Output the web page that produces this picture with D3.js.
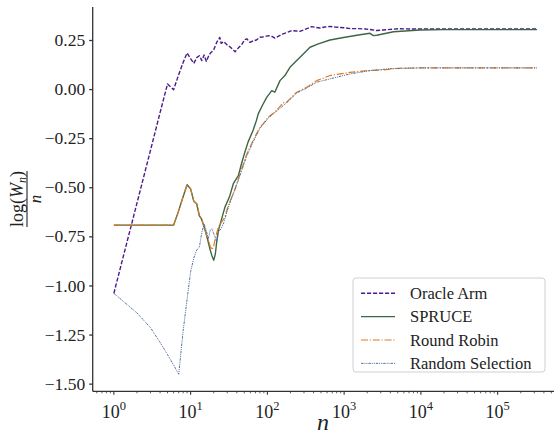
<!DOCTYPE html>
<html><head><meta charset="utf-8">
<script src="https://cdn.jsdelivr.net/npm/d3@7"></script>
<style>body{margin:0;background:#fff}svg{display:block}</style>
</head><body>
<svg id="c" width="554" height="436"></svg>
<script>
// ---------- data ----------
const seriesNames = ["Oracle Arm", "SPRUCE", "Round Robin", "Random Selection"];

const oracleN = [1,2,3,4,5,6,7,8,9,10,11,12,13,14,15,16,17,18,20,22,24,25,27,30,33,38,42,46,51,54,59,65,72,80,90,103,115,125,140,160,185,207,235,265,300,340,378,430,485,560,655,760,885,1000,1200,1500,1900,2300,2660,3200,4000,5080,7200,10000,20000,50000,100000,200000,325000];
const oracleY = [-1.04,-0.581,-0.312,-0.12,0.026,-0.003,0.074,0.136,0.184,0.155,0.131,0.16,0.17,0.145,0.174,0.141,0.165,0.182,0.2,0.24,0.263,0.233,0.242,0.225,0.213,0.19,0.21,0.225,0.252,0.256,0.238,0.245,0.25,0.264,0.266,0.272,0.268,0.26,0.27,0.281,0.29,0.298,0.296,0.294,0.302,0.31,0.318,0.314,0.311,0.316,0.319,0.316,0.314,0.312,0.308,0.308,0.306,0.302,0.298,0.301,0.304,0.307,0.306,0.306,0.306,0.306,0.306,0.306,0.306];

const spruceN = [1,2,3,4,5,6,7,8,9,10,11,12,13,14,15,16,17,18,19,20,21,22,23,25,28,32,36,42,46,51,56,65,72,76,87,98,114,125,146,169,197,241,294,359,461,655,980,1610,2170,2400,2660,3300,4400,9800,20000,50000,100000,200000,325000];
const spruceY = [-0.693,-0.693,-0.693,-0.693,-0.693,-0.693,-0.619,-0.547,-0.487,-0.508,-0.571,-0.584,-0.645,-0.665,-0.703,-0.74,-0.78,-0.82,-0.85,-0.872,-0.84,-0.77,-0.72,-0.67,-0.601,-0.55,-0.482,-0.44,-0.38,-0.32,-0.27,-0.211,-0.16,-0.126,-0.08,-0.042,-0.008,-0.016,0.043,0.069,0.111,0.145,0.179,0.213,0.23,0.25,0.263,0.277,0.284,0.272,0.274,0.282,0.292,0.301,0.303,0.303,0.303,0.303,0.303];

const roundN = [1,2,3,4,5,6,7,8,9,10,11,12,13,14,15,16,17,18,19,20,21,23,25,28,30,33,38,44,54,65,80,88,103,132,160,178,241,325,439,655,1190,1970,3250,5080,10000,30000,100000,325000];
const roundY = [-0.693,-0.693,-0.693,-0.693,-0.693,-0.693,-0.619,-0.547,-0.487,-0.508,-0.571,-0.584,-0.645,-0.665,-0.703,-0.74,-0.77,-0.8,-0.818,-0.8,-0.76,-0.703,-0.68,-0.652,-0.61,-0.567,-0.508,-0.431,-0.33,-0.262,-0.194,-0.177,-0.143,-0.109,-0.07,-0.067,-0.016,0.009,0.043,0.069,0.085,0.094,0.098,0.106,0.108,0.108,0.108,0.108];

const randomN = [1,2,3,4,5,6,7,8,9,10,11,12,13,14,15,16,17,18,19,20,21,22,23,25,27,30,33,38,44,54,65,80,103,132,178,241,325,439,655,1190,2170,4000,10000,30000,100000,325000];
const randomY = [-1.04,-1.14,-1.215,-1.29,-1.352,-1.405,-1.452,-1.23,-1.07,-0.93,-0.86,-0.82,-0.805,-0.73,-0.686,-0.72,-0.762,-0.72,-0.711,-0.737,-0.76,-0.779,-0.728,-0.711,-0.68,-0.62,-0.57,-0.51,-0.44,-0.34,-0.27,-0.2,-0.147,-0.112,-0.07,-0.02,0.005,0.035,0.052,0.077,0.094,0.104,0.108,0.108,0.108,0.108];

const yTicks = [0.25, 0.00, -0.25, -0.50, -0.75, -1.00, -1.25, -1.50];
const xTickExps = [0, 1, 2, 3, 4, 5];

// ---------- layout ----------
const svg = d3.select("#c");
const serif = "'Liberation Serif','DejaVu Serif',serif";
const x = d3.scaleLog().domain([Math.pow(10,-0.2755), Math.pow(10,5.786)]).range([92.7, 558]);
const y = d3.scaleLinear().domain([-1.539, 0.418]).range([391.3, 7]);
const axisColor = "#333";

const styles = [
  {name: seriesNames[0], n: oracleN, v: oracleY, color: "#4b1c8c", dash: "4.2,1.8", w: 1.4},
  {name: seriesNames[1], n: spruceN, v: spruceY, color: "#3d6645", dash: null, w: 1.4},
  {name: seriesNames[2], n: roundN, v: roundY, color: "#e07b24", dash: "7,1.8,1.2,1.8", w: 1.2},
  {name: seriesNames[3], n: randomN, v: randomY, color: "#4e6f9a", dash: "2.4,1,1,1,1,1", w: 1.0}
];

const line = d3.line().x(d => x(d[0])).y(d => y(d[1]));
const plot = svg.append("g");
styles.forEach(s => {
  plot.append("path")
    .datum(s.n.map((nn, i) => [nn, s.v[i]]))
    .attr("d", line)
    .attr("fill", "none")
    .attr("stroke", s.color)
    .attr("stroke-width", s.w)
    .attr("stroke-linejoin", "round")
    .attr("stroke-dasharray", s.dash);
});

// y axis
const yAxis = d3.axisLeft(y).tickValues(yTicks).tickSize(3.5).tickPadding(4)
  .tickFormat(d => d3.format(".2f")(d).replace("-", "\u2212"));
const gy = svg.append("g").attr("transform", "translate(92.7,0)").call(yAxis);
gy.select(".domain").attr("d", `M0,${y.range()[1]}V${y.range()[0]}`);
gy.selectAll("path,line").attr("stroke", axisColor).attr("stroke-width", 1.3);
gy.selectAll("text").attr("font-family", serif).attr("font-size", 17.5).attr("fill", "#222");

// x axis
const minorVals = [];
for (let e = -1; e <= 5; e++) for (let m = 2; m <= 9; m++) {
  const v = m * Math.pow(10, e);
  if (v >= x.domain()[0] && v <= x.domain()[1]) minorVals.push(v);
}
const gx = svg.append("g").attr("transform", "translate(0,391.3)");
gx.append("line").attr("x1", 92.7).attr("x2", 558).attr("stroke", axisColor).attr("stroke-width", 1.3);
gx.selectAll(".minor").data(minorVals).join("line")
  .attr("x1", d => x(d)).attr("x2", d => x(d)).attr("y1", 0).attr("y2", 2)
  .attr("stroke", axisColor).attr("stroke-width", 0.8);
const majors = gx.selectAll(".major").data(xTickExps).join("g")
  .attr("transform", d => `translate(${x(Math.pow(10, d))},0)`);
majors.append("line").attr("y2", 3.5).attr("stroke", axisColor).attr("stroke-width", 1.1);
const lbl = majors.append("text").attr("y", 26.5).attr("text-anchor", "middle")
  .attr("font-family", serif).attr("font-size", 18).attr("fill", "#222");
lbl.append("tspan").text("10");
lbl.append("tspan").attr("dy", -7.5).attr("font-size", 12.5).text(d => d);

// axis titles
svg.append("text").attr("x", 323).attr("y", 430).attr("text-anchor", "middle")
  .attr("font-family", serif).attr("font-style", "italic").attr("font-size", 24).attr("fill", "#222").text("n");

const yl = svg.append("g").attr("transform", "translate(0,199) rotate(-90)");
const num = yl.append("text").attr("x", 0).attr("y", 23).attr("text-anchor", "middle")
  .attr("font-family", serif).attr("font-size", 18).attr("fill", "#222");
num.append("tspan").text("log(");
num.append("tspan").attr("font-style", "italic").text("W");
num.append("tspan").attr("font-style", "italic").attr("font-size", 12).attr("dy", 3).text("n");
num.append("tspan").attr("dy", -3).text(")");
yl.append("line").attr("x1", -28).attr("x2", 28).attr("y1", 27).attr("y2", 27).attr("stroke", "#222").attr("stroke-width", 1.1);
yl.append("text").attr("x", 0).attr("y", 41).attr("text-anchor", "middle")
  .attr("font-family", serif).attr("font-style", "italic").attr("font-size", 17).attr("fill", "#222").text("n");

// legend
const lg = svg.append("g");
lg.append("rect").attr("x", 353).attr("y", 278).attr("width", 192).attr("height", 94).attr("rx", 3)
  .attr("fill", "#fff").attr("fill-opacity", 0.85).attr("stroke", "#d0d0d0").attr("stroke-width", 1);
styles.forEach((s, i) => {
  const yy = 293.3 + i * 23.35;
  lg.append("line").attr("x1", 361).attr("x2", 395).attr("y1", yy).attr("y2", yy)
    .attr("stroke", s.color).attr("stroke-width", s.w).attr("stroke-dasharray", s.dash);
  lg.append("text").attr("x", 410).attr("y", yy + 5.5).attr("font-family", serif).attr("font-size", 16.5)
    .attr("fill", "#222").text(s.name);
});
</script>
</body></html>
